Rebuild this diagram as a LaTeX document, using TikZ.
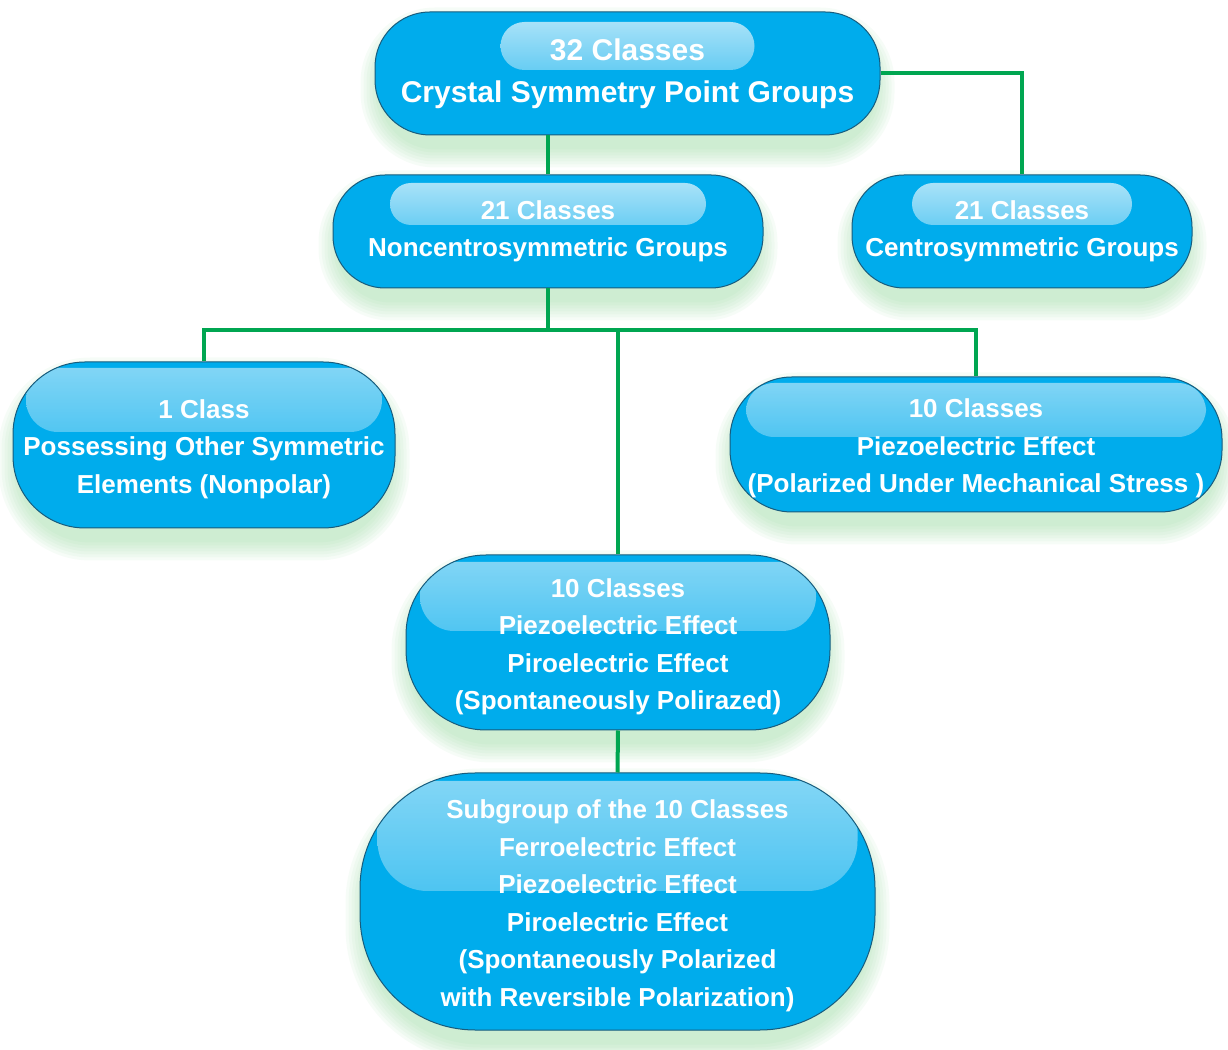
\documentclass[tikz,border=0pt]{standalone}
\usepackage{fontspec}
\setmainfont{Liberation Sans}
\usetikzlibrary{calc,backgrounds}
\definecolor{boxc}{RGB}{0,172,236}
\definecolor{hlc}{RGB}{190,233,250}
\definecolor{edgec}{RGB}{24,92,125}
\definecolor{linec}{RGB}{0,166,81}
\definecolor{glowc}{RGB}{140,215,150}
\newcommand{\glowbox}[2]{%
  \foreach \d [evaluate=\d as \r using #2+\d] in {2,5,...,20}{%
    \fill[glowc, opacity=0.07, rounded corners=\r pt]
      ($(#1.south west)+({6-\d},{-12-\d})$) rectangle ($(#1.north east)+({\d-6},{\d-16})$);}}
\newcommand{\lowstrut}{\rule{0pt}{27pt}}
\tikzset{
  pill/.style={draw=edgec, line width=1pt, fill=boxc, text=white,
    font=\bfseries\fontsize{26}{37.5}\selectfont, align=center, inner sep=0pt,
    rounded corners=#1},
  gloss/.style n args={5}{path picture={%
    \shade[top color=hlc, bottom color=boxc, middle color=boxc!45!hlc, opacity=#5, rounded corners=#4pt]
      ([xshift=-#1pt, yshift=-#2pt]path picture bounding box.north) rectangle
      ([xshift=#1pt, yshift=-#3pt]path picture bounding box.north);}},
  conn/.style={draw=linec, line width=4pt}
}
\begin{document}
\begin{tikzpicture}[x=1pt,y=1pt]
\useasboundingbox (0,0) rectangle (1228,1049);

\node[pill=55pt, minimum width=505pt, minimum height=123pt, gloss={127}{10}{58}{24}{0.95},
  font=\bfseries\fontsize{30}{42}\selectfont] (top) at (627.5,975.5)
  {32 Classes\\Crystal Symmetry Point Groups};
\node[pill=52pt, minimum width=430pt, minimum height=113pt, gloss={158}{8}{50}{21}{0.95}] (nc) at (548,817.5)
  {21 Classes\\Noncentrosymmetric Groups};
\node[pill=52pt, minimum width=340pt, minimum height=113pt, gloss={110}{8}{50}{21}{0.95}] (cs) at (1022,817.5)
  {21 Classes\\Centrosymmetric Groups};
\node[pill=72pt, minimum width=382pt, minimum height=166pt, gloss={178}{6}{70}{32}{0.7}] (one) at (204,604)
  {\lowstrut 1 Class\\Possessing Other Symmetric\\Elements (Nonpolar)};
\node[pill=62pt, minimum width=492pt, minimum height=135pt, gloss={230}{6}{60}{28}{0.7}] (pz) at (976,604.5)
  {\lowstrut 10 Classes\\Piezoelectric Effect\\(Polarized Under Mechanical Stress )};
\node[pill=80pt, minimum width=424pt, minimum height=175pt, gloss={198}{7}{76}{34}{0.7}] (mid) at (618,406.5)
  {\lowstrut 10 Classes\\Piezoelectric Effect\\Piroelectric Effect\\(Spontaneously Polirazed)};
\node[pill=115pt, minimum width=515pt, minimum height=257pt, gloss={240}{8}{118}{50}{0.7}] (sub) at (617.5,147.5)
  {\lowstrut Subgroup of the 10 Classes\\Ferroelectric Effect\\Piezoelectric Effect\\Piroelectric Effect\\(Spontaneously Polarized\\with Reversible Polarization)};

\begin{scope}[on background layer]
  \fill[white] (0,0) rectangle (1228,1049);
  \glowbox{top}{55}
  \glowbox{nc}{52}
  \glowbox{cs}{52}
  \glowbox{one}{72}
  \glowbox{pz}{62}
  \glowbox{mid}{80}
  \glowbox{sub}{115}
\end{scope}

\coordinate (bus) at (548,719);
\draw[conn] (nc.north) -- (nc.north |- top.south);
\draw[conn] (top.east) -| (cs.north);
\draw[conn] (nc.south) -- (bus);
\draw[conn] (one.north) |- (bus);
\draw[conn] (bus) -| (pz.north);
\draw[conn] (mid.north) -- (mid.north |- bus);
\draw[conn] (mid.south) -- (sub.north);
\end{tikzpicture}
\end{document}
